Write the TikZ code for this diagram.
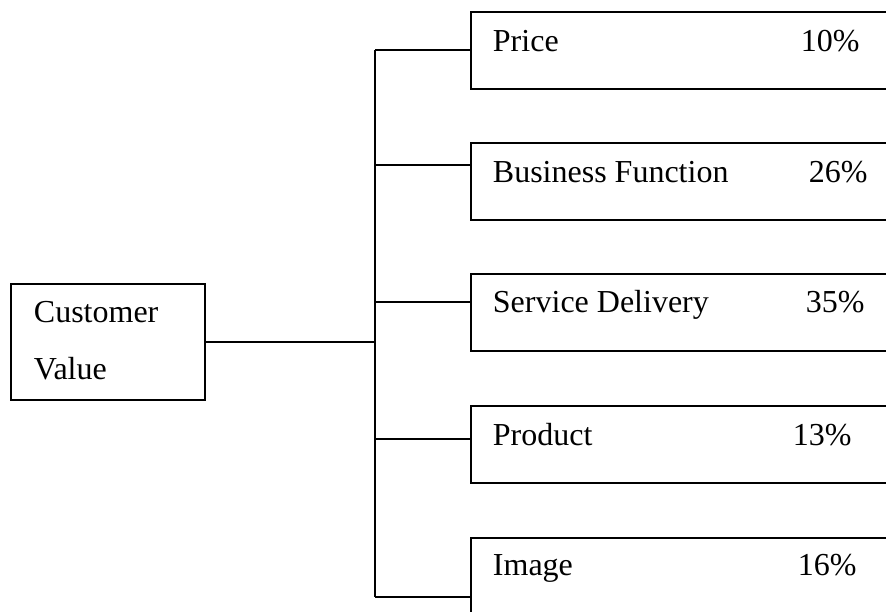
\documentclass[tikz,border=0pt]{standalone}
\usepackage{fontspec}
\setmainfont{Liberation Serif}
\begin{document}
\begin{tikzpicture}[x=1pt,y=-1pt,
  line width=1.9pt,
  box/.style={draw,line width=1.9pt,inner sep=0pt,anchor=north west,
    minimum width=#1,minimum height=77pt},
  box/.default=440pt,
  lbl/.style={inner sep=0pt,anchor=base west,font=\fontsize{32}{38}\selectfont}]
\useasboundingbox (0,0) rectangle (886,611);
\clip (0,0) rectangle (886,611);

% root box
\node[box=194pt,minimum height=116pt] (cv) at (10,283) {};
\node[lbl] (cv1) at (33,322) {Customer};
\node[lbl] (cv2) at (33,379) {Value};

% category boxes (open to the right)
\node[box] (price) at (470,11) {};
\node[box] (bf) at (470,142) {};
\node[box] (sd) at (470,273) {};
\node[box] (prod) at (470,405) {};
\node[box,minimum height=90pt] (img) at (470,537) {};

% labels and shares
\node[lbl] (t1) at (492,51) {Price};
\node[lbl] (p1) at (800,51) {10\%};
\node[lbl] (t2) at (492,182) {Business Function};
\node[lbl] (p2) at (808,182) {26\%};
\node[lbl] (t3) at (492,312) {Service Delivery};
\node[lbl] (p3) at (805,312) {35\%};
\node[lbl] (t4) at (492,445) {Product};
\node[lbl] (p4) at (792,445) {13\%};
\node[lbl] (t5) at (492,575) {Image};
\node[lbl] (p5) at (797,575) {16\%};

% trunk
\coordinate (jtop) at (375,50);
\coordinate (jbot) at (375,597);
\coordinate (jmid) at (375,342);
\draw (jtop) -- (jbot);

% root to trunk
\draw (jmid -| cv.east) -- (jmid);

% trunk to categories
\draw (jtop) -- (jtop -| price.west);
\draw (375,165) -- (375,165 -| bf.west);
\draw (375,302) -- (375,302 -| sd.west);
\draw (375,439) -- (375,439 -| prod.west);
\draw (jbot) -- (jbot -| img.west);
\end{tikzpicture}
\end{document}
